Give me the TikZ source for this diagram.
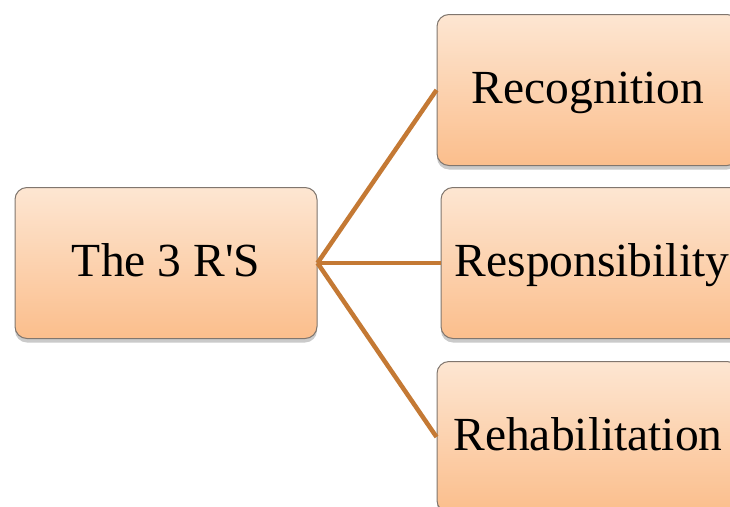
\documentclass[tikz,border=0pt]{standalone}
\usepackage{fontspec}
\setmainfont{Liberation Serif}
\usetikzlibrary{shadows}
\definecolor{peachtop}{RGB}{253,230,210}
\definecolor{peachbot}{RGB}{251,190,140}
\definecolor{boxedge}{RGB}{128,118,110}
\definecolor{linkcol}{RGB}{196,121,52}
\tikzset{
  rbox/.style={rectangle, rounded corners=12pt, draw=boxedge, line width=1pt,
    top color=peachtop, bottom color=peachbot,
    minimum width=302pt, minimum height=151pt, inner sep=0pt,
    text height=32pt, text depth=6pt,
    font=\fontsize{47.5}{52}\selectfont,
    drop shadow={shadow xshift=0pt, shadow yshift=-4pt, opacity=0.35, fill=black!60}},
  link/.style={draw=linkcol, line width=4.5pt}
}
\begin{document}
\begin{tikzpicture}[x=1pt,y=-1pt]
\useasboundingbox (0,0) rectangle (730,506);
\node[rbox] (root) at (166,263) {The 3 R\textquotesingle S};
\node[rbox] (rec) at (588,90) {Recognition};
\node[rbox] (resp) at (592,263) {Responsibility};
\node[rbox] (reh) at (588,437) {Rehabilitation};
\coordinate (hub) at (root.east);
\draw[link] (hub) -- (rec.west);
\draw[link] (hub) -- (resp.west);
\draw[link] (hub) -- (reh.west);
\end{tikzpicture}
\end{document}
